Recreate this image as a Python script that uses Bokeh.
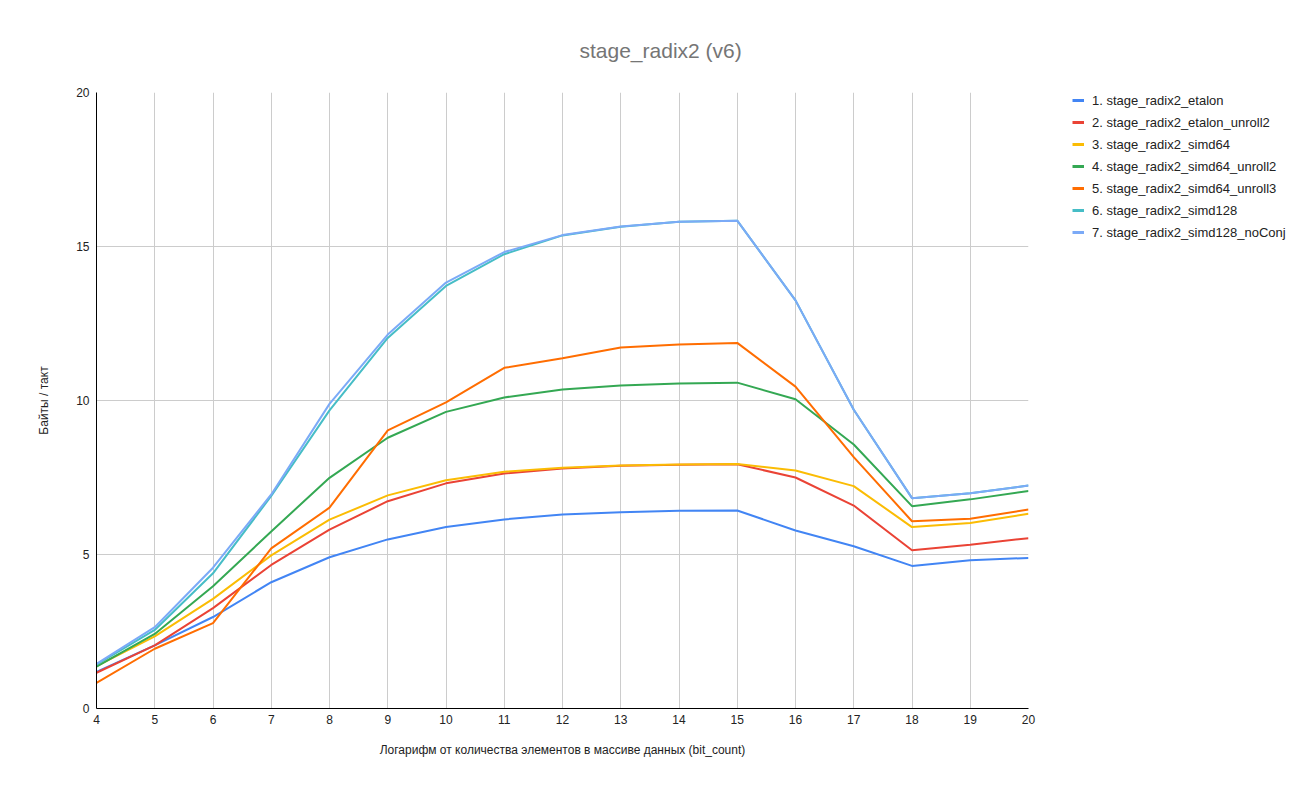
from bokeh.plotting import figure
from bokeh.layouts import row
from bokeh.models import Range1d, FixedTicker, Legend, LegendItem
from bokeh.embed import file_html
from bokeh.resources import INLINE

bit_count = list(range(4, 21))
x_ticks = list(range(4, 21))
y_ticks = [0, 5, 10, 15, 20]

series_names = [
    "1. stage_radix2_etalon",
    "2. stage_radix2_etalon_unroll2",
    "3. stage_radix2_simd64",
    "4. stage_radix2_simd64_unroll2",
    "5. stage_radix2_simd64_unroll3",
    "6. stage_radix2_simd128",
    "7. stage_radix2_simd128_noConj",
]

etalon = [1.19, 2.05, 2.97, 4.10, 4.91, 5.49, 5.89, 6.14, 6.30, 6.37, 6.42, 6.43, 5.78, 5.27, 4.63, 4.81, 4.89]
etalon_unroll2 = [1.16, 2.05, 3.26, 4.66, 5.81, 6.73, 7.31, 7.63, 7.79, 7.88, 7.91, 7.93, 7.50, 6.59, 5.14, 5.32, 5.53]
simd64 = [1.38, 2.34, 3.56, 4.97, 6.13, 6.92, 7.41, 7.69, 7.82, 7.89, 7.92, 7.94, 7.73, 7.22, 5.89, 6.02, 6.32]
simd64_unroll2 = [1.36, 2.42, 3.97, 5.75, 7.49, 8.79, 9.63, 10.10, 10.36, 10.49, 10.55, 10.58, 10.04, 8.57, 6.57, 6.79, 7.06]
simd64_unroll3 = [0.83, 1.94, 2.77, 5.20, 6.52, 9.03, 9.94, 11.06, 11.37, 11.72, 11.82, 11.87, 10.45, 8.16, 6.08, 6.16, 6.46]
simd128 = [1.42, 2.55, 4.39, 6.90, 9.68, 12.03, 13.72, 14.75, 15.36, 15.64, 15.80, 15.84, 13.25, 9.70, 6.83, 6.99, 7.24]
simd128_noConj = [1.45, 2.64, 4.57, 6.95, 9.89, 12.14, 13.83, 14.82, 15.37, 15.65, 15.80, 15.84, 13.25, 9.70, 6.83, 6.99, 7.24]

all_series = [etalon, etalon_unroll2, simd64, simd64_unroll2, simd64_unroll3, simd128, simd128_noConj]
colors = ["#4285F4", "#EA4335", "#FBBC04", "#34A853", "#FF6D01", "#46BDC6", "#7BAAF7"]

FONT = "Liberation Sans"

# ---------------- main chart ----------------
p = figure(
    width=1072, height=795,
    output_backend="svg", toolbar_location=None,
    x_range=Range1d(4, 20), y_range=Range1d(0, 20),
    min_border_left=96, min_border_right=44, min_border_top=92, min_border_bottom=87,
)
p.outline_line_color = None
p.background_fill_color = "white"
p.border_fill_color = "white"

p.title.text = "stage_radix2 (v6)"
p.title.align = "left"
p.title.offset = 483
p.title.standoff = 62
p.title.text_font = FONT
p.title.text_font_size = "21px"
p.title.text_font_style = "normal"
p.title.text_color = "#757575"

for xa in p.xaxis:
    xa.ticker = FixedTicker(ticks=x_ticks)
for ya in p.yaxis:
    ya.ticker = FixedTicker(ticks=y_ticks)

for ax in [p.xaxis[0], p.yaxis[0]]:
    ax.axis_line_color = "#000000"
    ax.axis_line_width = 1
    ax.major_tick_line_color = None
    ax.minor_tick_line_color = None
    ax.major_tick_out = 0
    ax.major_tick_in = 0
    ax.minor_tick_out = 0
    ax.minor_tick_in = 0
    ax.major_label_text_font = FONT
    ax.major_label_text_font_size = "12px"
    ax.major_label_text_color = "#222222"
    ax.axis_label_text_font = FONT
    ax.axis_label_text_font_size = "12px"
    ax.axis_label_text_font_style = "normal"
    ax.axis_label_text_color = "#222222"

p.xaxis.axis_label = "Логарифм от количества элементов в массиве данных (bit_count)"
p.yaxis.axis_label = "Байты / такт"
p.xaxis.major_label_standoff = 6
p.yaxis.major_label_standoff = 7
p.xaxis.axis_label_standoff = 16
p.yaxis.axis_label_standoff = 22

p.xgrid.grid_line_color = "#cccccc"
p.ygrid.grid_line_color = "#cccccc"
p.xgrid.ticker = FixedTicker(ticks=x_ticks)
p.ygrid.ticker = FixedTicker(ticks=y_ticks)

for vals, col in zip(all_series, colors):
    p.line(bit_count, vals, line_color=col, line_width=2)

# ---------------- legend panel ----------------
p2 = figure(
    width=228, height=795,
    output_backend="svg", toolbar_location=None,
    x_range=Range1d(0, 1), y_range=Range1d(0, 1),
    x_axis_location=None, y_axis_location=None,
    min_border=0,
)
p2.outline_line_color = None
p2.grid.visible = False
p2.background_fill_color = "white"
p2.border_fill_color = "white"

items = []
for name, vals, col in zip(series_names, all_series, colors):
    r = p2.line(bit_count, vals, line_color=col, line_width=3)
    items.append(LegendItem(label=name, renderers=[r]))

legend = Legend(
    items=items,
    location="top_left",
    orientation="vertical",
    glyph_width=12, glyph_height=16, label_height=16,
    spacing=6, padding=0, margin=0, label_standoff=8,
    label_text_font=FONT, label_text_font_size="13px", label_text_color="#222222",
    border_line_color=None, background_fill_alpha=0,
)
p2.add_layout(legend, "center")

layout = row(p, p2)
open("out.html", "w").write(file_html(layout, INLINE))
